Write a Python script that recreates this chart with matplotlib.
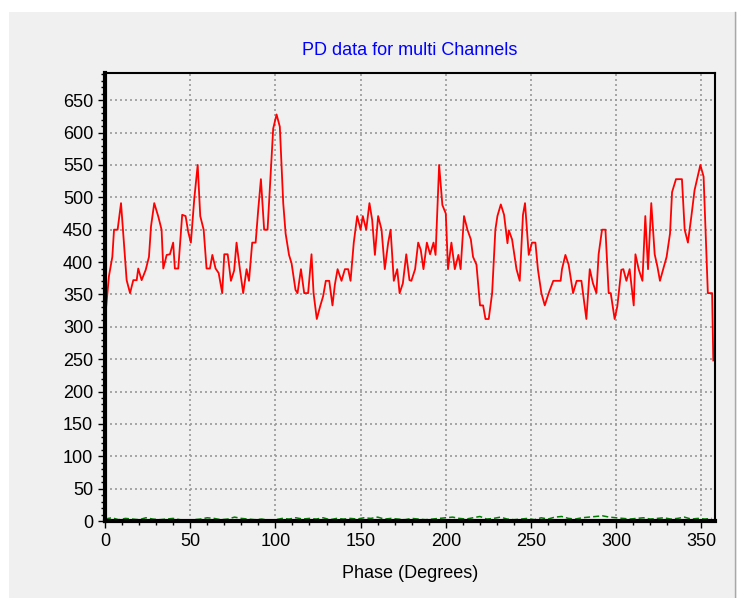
import numpy as np
import matplotlib.pyplot as plt
from matplotlib.ticker import MultipleLocator
from matplotlib.patches import Rectangle

# channel 1 (red) - phase in degrees, amplitude
phase_ch1 = [0, 2.3, 4.3, 5.3, 7.4, 9.4, 12.7, 14.7, 16.6, 18.6, 19.5, 21.5, 23.9, 25.8, 27,
             28.9, 31.3, 33.2, 34.2, 36.2, 38.1, 40, 41, 43, 45.3, 47.3, 48.8, 50.4, 52.4,
             54.4, 55.9, 57.9, 59.6, 61.6, 63, 64.9, 66.7, 68.8, 70, 72, 73.9, 75.8, 77.2,
             79.2, 81.1, 83.1, 84.5, 86.4, 88.4, 89.9, 91.5, 93.4, 95.4, 98.7, 100.7, 102.6,
             104.6, 106, 108, 109.5, 111.8, 113, 115, 116.9, 119.2, 121.2, 122.4, 124.3,
             126.3, 128, 129.6, 131.6, 133.5, 134.9, 136.5, 138.8, 140.8, 142.7, 144.1, 146,
             148, 150, 151.3, 153.3, 155.2, 156.8, 158.4, 160.3, 162.3, 164.2, 166.2, 167.6,
             169.5, 171.5, 172.9, 174.8, 176.8, 178.7, 179.8, 182, 183.8, 185.3, 186.9,
             188.9, 190.8, 192.8, 194, 196.1, 198, 200, 201.3, 203.3, 205.3, 207.4, 208.7,
             210.7, 212.7, 214.7, 216, 218, 220.1, 221.9, 223.3, 225.2, 227.2, 229.1, 230.3,
             232.3, 234.2, 236.2, 237, 238.9, 241.5, 243.4, 245.3, 246.5, 248.7, 250.6,
             252.6, 254.1, 256.1, 258.1, 260.4, 263.1, 265.1, 267.4, 268.2, 270.2, 272.1,
             274.7, 276.8, 279.6, 282.5, 284.5, 286.4, 288.4, 289.7, 291.7, 293.7, 295.6,
             296.8, 299.1, 300.7, 303, 304.2, 306, 307.9, 310.3, 311.3, 313.2, 315.4, 317.1,
             318.7, 320.6, 322.6, 324.2, 325.7, 327.5, 329.6, 331.6, 332.8, 335.1, 338.6,
             340.2, 342.1, 344.1, 346, 347.6, 349.4, 351.3, 353.8, 356.3, 357]
amp_ch1 = [311, 378, 408, 450, 450, 491, 372, 352, 372, 372, 390, 372, 388, 408, 455,
           491, 470, 450, 390, 411, 412, 430, 390, 390, 473, 471, 447, 430, 498,
           550, 471, 450, 390, 390, 411, 390, 383, 352, 412, 412, 371, 387, 430,
           388, 352, 389, 371, 430, 430, 480, 528, 450, 450, 606, 628, 609,
           491, 444, 411, 398, 357, 352, 389, 352, 352, 412, 352, 312,
           332, 347, 371, 371, 333, 365, 389, 371, 389, 389, 371, 430,
           471, 450, 471, 450, 491, 465, 411, 471, 450, 389, 430, 450,
           371, 389, 352, 367, 412, 372, 371, 389, 430, 419, 389,
           430, 412, 430, 411, 550, 488, 475, 389, 430, 389, 411, 389,
           471, 450, 435, 408, 396, 333, 333, 312, 312, 352, 450, 471,
           489, 473, 429, 449, 435, 389, 371, 473, 491, 411, 430,
           430, 388, 352, 333, 352, 371, 371, 371, 389, 411, 396,
           352, 371, 371, 312, 389, 367, 352, 412, 450, 450, 352,
           352, 312, 332, 388, 389, 371, 389, 333, 412, 389, 371, 471,
           389, 491, 412, 393, 371, 388, 408, 444, 508, 528, 528,
           450, 430, 470, 511, 529, 550, 532, 352, 352, 248]

# channel 2 (green, dashed) - low level noise floor
phase_ch2 = list(range(0, 360, 4))
amp_ch2 = [3, 5, 2, 4, 3, 2, 5, 3, 2, 3, 4, 2, 1, 2, 3, 5, 4, 2, 3, 6,
           4, 3, 2, 3, 1, 2, 4, 3, 5, 3, 4, 3, 5, 2, 4, 3, 4, 3, 5, 4,
           6, 3, 4, 3, 2, 4, 3, 2, 3, 4, 5, 6, 4, 3, 5, 7, 3, 4, 6, 3,
           2, 3, 4, 2, 5, 3, 6, 7, 4, 3, 5, 6, 7, 8, 6, 5, 4, 3, 4, 5,
           3, 4, 5, 3, 4, 6, 3, 4, 3, 4]

bg = '#f0f0f0'
plt.rcParams['font.family'] = ['Liberation Sans', 'DejaVu Sans']

fig = plt.figure(figsize=(7.37, 5.98), dpi=100)
fig.patch.set_facecolor('white')
fig.patches.append(Rectangle((9 / 737, 0), 1 - 9 / 737, 1 - 12 / 598, transform=fig.transFigure,
                             facecolor=bg, edgecolor='none', zorder=-10))
# thin darker line at the right edge of the panel
fig.add_artist(plt.Line2D([735 / 737, 735 / 737], [0, 1 - 12 / 598], transform=fig.transFigure,
                          color='#a8a8a8', linewidth=1))

ax = fig.add_axes([105 / 737, 1 - 521 / 598, (715 - 105) / 737, (521 - 73) / 598])
ax.set_facecolor(bg)

ax.plot(phase_ch2, amp_ch2, color='#008000', linestyle='--', linewidth=1.1, dashes=(4, 2))
ax.plot(phase_ch1, amp_ch1, color='red', linewidth=1.3)

ax.set_xlim(0, 358)
ax.set_ylim(0, 692)
ax.xaxis.set_major_locator(MultipleLocator(50))
ax.xaxis.set_minor_locator(MultipleLocator(10))
ax.yaxis.set_major_locator(MultipleLocator(50))
ax.yaxis.set_minor_locator(MultipleLocator(10))
ax.set_yticks(np.arange(0, 651, 50))
ax.tick_params(which='major', direction='out', length=5, width=1, labelsize=13)
ax.tick_params(which='minor', direction='out', length=3, width=1)
ax.grid(True, which='major', color='#999999', linestyle=(0, (1.2, 1.8)), linewidth=1.2)

for side in ['left', 'bottom']:
    ax.spines[side].set_linewidth(3)
for side in ['top', 'right']:
    ax.spines[side].set_linewidth(1.5)

ax.set_title('PD data for multi Channels', color='#0000ff', fontsize=13, pad=13)
ax.set_xlabel('Phase (Degrees)', fontsize=13, labelpad=11)

fig.savefig('out.png', dpi=100, facecolor=fig.get_facecolor())
